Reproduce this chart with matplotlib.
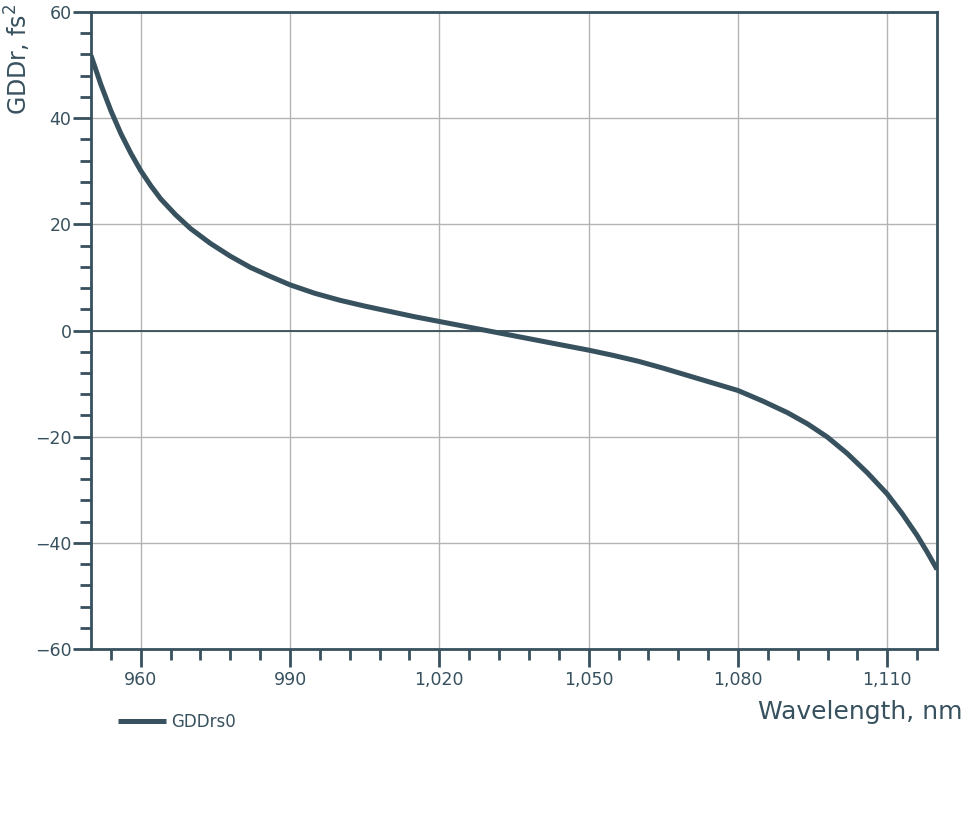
import matplotlib
matplotlib.use("Agg")
import matplotlib.pyplot as plt
from matplotlib.ticker import MultipleLocator, FuncFormatter

# values
wavelength = [950, 952, 954, 956, 958, 960, 962, 964, 967, 970, 974, 978,
              982, 986, 990, 995, 1000, 1005, 1010, 1015, 1020, 1025, 1030,
              1035, 1040, 1045, 1050, 1055, 1060, 1065, 1070, 1075, 1080,
              1085, 1090, 1094, 1098, 1102, 1106, 1110, 1113, 1116, 1118, 1120]
gddr = [51.8, 46.3, 41.4, 37.1, 33.4, 30.1, 27.3, 24.8, 21.8, 19.2, 16.4, 14.0,
        11.9, 10.2, 8.6, 7.0, 5.7, 4.6, 3.6, 2.6, 1.7, 0.8, -0.1,
        -1.0, -1.9, -2.8, -3.7, -4.7, -5.8, -7.1, -8.5, -9.9, -11.3,
        -13.3, -15.5, -17.6, -20.1, -23.2, -26.8, -30.8, -34.5, -38.6, -41.7, -45.0]

dark = '#37515e'

fig = plt.figure(figsize=(9.63, 8.17), dpi=100)
ax = fig.add_axes([91 / 963, 1 - 649 / 817, (937 - 91) / 963, (649 - 12) / 817])

ax.plot(wavelength, gddr, color=dark, lw=3.6, solid_capstyle='butt',
        solid_joinstyle='round', label='GDDrs0', zorder=3)
ax.axhline(0, color='#3a4f5a', lw=1.3, zorder=2)

ax.set_xlim(950, 1120)
ax.set_ylim(-60, 60)
ax.xaxis.set_major_locator(MultipleLocator(30))
ax.xaxis.set_minor_locator(MultipleLocator(6))
ax.yaxis.set_major_locator(MultipleLocator(20))
ax.yaxis.set_minor_locator(MultipleLocator(4))
ax.xaxis.set_major_formatter(FuncFormatter(lambda v, p: f"{v:,.0f}"))

ax.grid(True, which='major', color='#b4b4b4', lw=1.0, zorder=1)
for s in ax.spines.values():
    s.set_color(dark)
    s.set_linewidth(2)

ax.tick_params(which='major', direction='out', length=13, width=2, color=dark,
               labelcolor=dark, labelsize=12.5)
ax.tick_params(which='minor', direction='out', length=8, width=2, color=dark)
ax.tick_params(axis='x', which='major', pad=3)
ax.tick_params(axis='y', which='major', pad=1)

fig.text(18 / 963, 1 - 115 / 817, 'GDDr, fs$^2$', rotation=90, color=dark,
         fontsize=17, ha='center', va='bottom')
fig.text(962 / 963, 1 - 712 / 817, 'Wavelength, nm', color=dark,
         fontsize=18, ha='right', va='center')

leg = fig.legend(loc='center left', bbox_to_anchor=(103 / 963, 1 - 722 / 817),
                 frameon=False, fontsize=12, handlelength=2.9, handletextpad=0.3)
for t in leg.get_texts():
    t.set_color(dark)

fig.savefig('out.png', dpi=100)
